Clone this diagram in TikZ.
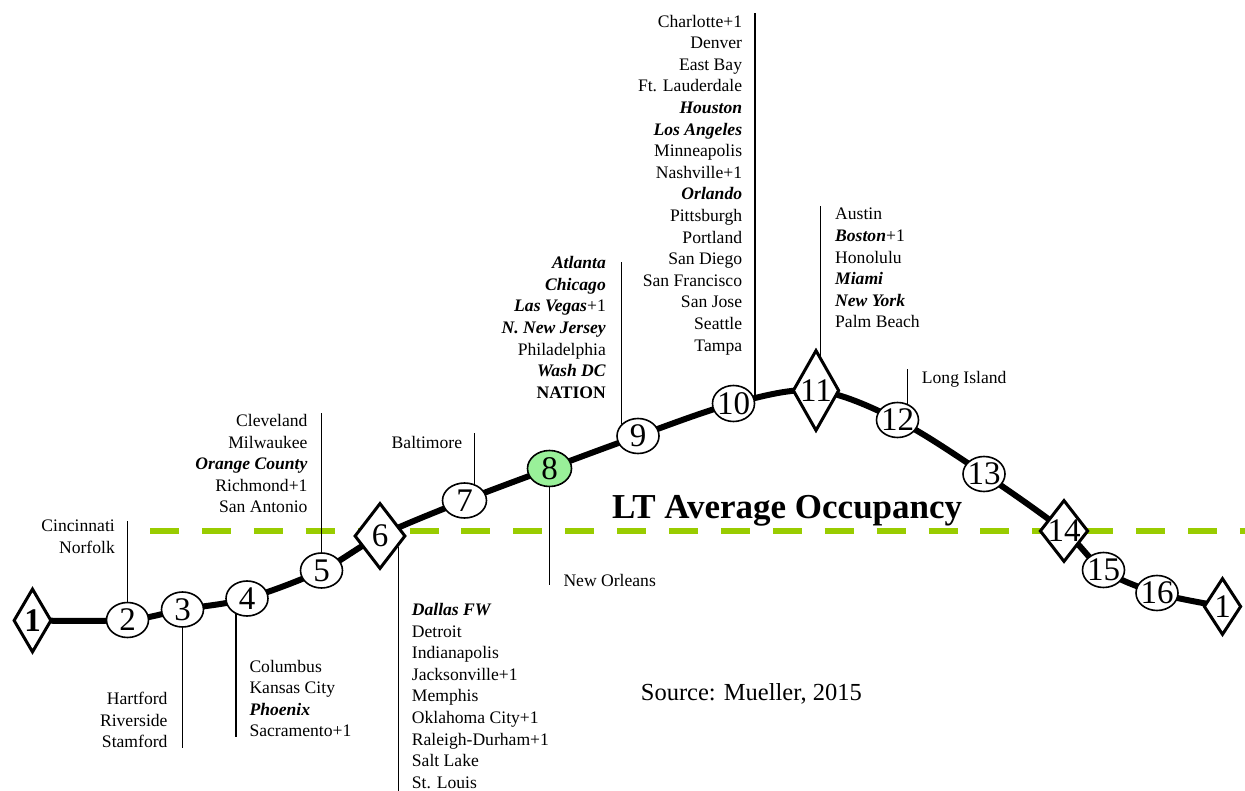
\documentclass[tikz,border=0pt]{standalone}
\usepackage{fontspec}
\setmainfont{Liberation Serif}
\usetikzlibrary{shapes.geometric,backgrounds}
\definecolor{avggreen}{RGB}{153,204,0}
\definecolor{topfill}{RGB}{153,240,153}
\newcommand\keycity[1]{\textbf{\textit{#1}}}
\begin{document}
\begin{tikzpicture}[x=1pt,y=-1pt,
  rank/.style={ellipse,draw,line width=1.6pt,fill=white,minimum width=42pt,
    minimum height=35pt,inner xsep=-4pt,inner ysep=0pt,font=\fontsize{33}{33}\selectfont},
  gate/.style={diamond,draw,line width=3pt,fill=white,inner xsep=-3pt,inner ysep=0pt,
    font=\fontsize{33}{33}\selectfont},
  leader/.style={line width=1.4pt},
  cityR/.style={anchor=north east,align=right,inner sep=0pt,
    font=\fontsize{17.6}{21.6}\selectfont},
  cityL/.style={anchor=north west,align=left,inner sep=0pt,
    font=\fontsize{17.6}{21.6}\selectfont},
  occ/.style={line width=6pt},
  avg/.style={avggreen,line width=6pt,dash pattern=on 29pt off 22.9pt}
]
\useasboundingbox (0,0) rectangle (1245,791);

% occupancy ranks along the curve
\node[gate,aspect=0.6,minimum width=38pt,minimum height=64pt] (s1) at (32.5,620.5) {\textbf{1}};
\node[rank] (s2) at (127.5,620) {2};
\node[rank] (s3) at (182.5,609.5) {3};
\node[rank] (s4) at (247,598.5) {4};
\node[rank] (s5) at (321.5,570.5) {5};
\node[gate,aspect=0.75,minimum width=51pt,minimum height=66pt] (s6) at (380,536) {6};
\node[rank,minimum width=44pt] (s7) at (464.5,500.5) {7};
\node[rank,fill=topfill,minimum width=44pt,minimum height=36pt] (s8) at (549.5,468.5) {8};
\node[rank] (s9) at (638,436) {9};
\node[rank,minimum height=36pt] (s10) at (733.5,403.5) {10};
\node[gate,aspect=0.57,minimum width=46.5pt,minimum height=81pt] (s11) at (816,390.5) {11};
\node[rank] (s12) at (897.5,420) {12};
\node[rank] (s13) at (984,474) {13};
\node[gate,aspect=0.78,minimum width=48.5pt,minimum height=62pt] (s14) at (1064,531) {14};
\node[rank] (s15) at (1103.5,570) {15};
\node[rank] (s16) at (1157,593) {16};
\node[gate,aspect=0.65,minimum width=37.5pt,minimum height=57pt] (s1b) at (1222.5,606.5) {1};

% curve and average line behind the ranks
\begin{pgfonlayer}{background}
  \coordinate (avgL) at (150,531);
  \coordinate (avgR) at (1245,531);
  \draw[avg] (avgL) -- (avgR);
  \draw[occ] plot[smooth,tension=0.55] coordinates {(s1) (s2) (s3) (s4) (s5) (s6)
    (s7) (s8) (s9) (s10) (s11) (s12) (s13) (s14) (s15) (s16) (s1b)};
\end{pgfonlayer}

% leaders to the city lists
\coordinate (t2) at (127.5,520.5);
\coordinate (b3) at (182.5,748);
\coordinate (b4) at (236,737);
\coordinate (t5) at (321.5,413);
\coordinate (b6) at (398.5,791);
\coordinate (t7) at (474,433);
\coordinate (b8) at (549.5,585);
\coordinate (t9) at (621.7,262);
\coordinate (t10) at (755,13);
\coordinate (t11) at (821,206);
\coordinate (t12) at (907.7,369);
\draw[leader] (s2) -- (t2);
\draw[leader] (s3) -- (b3);
\draw[leader] (s4.235) -- (s4.235 |- b4);
\draw[leader] (s5) -- (t5);
\draw[leader] (s6.-31) -- (s6.-31 |- b6);
\draw[leader] (s7.59) -- (s7.59 |- t7);
\draw[leader] (s8) -- (b8);
\draw[leader] (s9.144) -- (s9.144 |- t9);
\draw[leader] (s10.10) -- (s10.10 |- t10);
\draw[leader] (s11.82) -- (s11.82 |- t11);
\draw[leader] (s12.58) -- (s12.58 |- t12);

% city lists
\node[cityR] (c2) at (115,520) {Cincinnati\\Norfolk};
\node[cityR] (c3) at (167.7,692) {Hartford\\Riverside\\Stamford};
\node[cityL] (c4) at (249.3,659.7) {Columbus\\Kansas City\\\keycity{Phoenix}\\Sacramento+1};
\node[cityR] (c5) at (307.7,414) {Cleveland\\Milwaukee\\\keycity{Orange County}\\Richmond+1\\San Antonio};
\node[cityL] (c6) at (411.7,603) {\keycity{Dallas FW}\\Detroit\\Indianapolis\\Jacksonville+1\\Memphis\\Oklahoma City+1\\Raleigh-Durham+1\\Salt Lake\\St. Louis};
\node[cityR] (c7) at (462.3,435.7) {Baltimore};
\node[cityL] (c8) at (563.3,574) {New Orleans};
\node[cityR] (c9) at (606,256.3) {\keycity{Atlanta}\\\keycity{Chicago}\\\keycity{Las Vegas}+1\\\keycity{N. New Jersey}\\Philadelphia\\\keycity{Wash DC}\\\textbf{NATION}};
\node[cityR] (c10) at (742.3,14.7) {Charlotte+1\\Denver\\East Bay\\Ft. Lauderdale\\\keycity{Houston}\\\keycity{Los Angeles}\\Minneapolis\\Nashville+1\\\keycity{Orlando}\\Pittsburgh\\Portland\\San Diego\\San Francisco\\San Jose\\Seattle\\Tampa};
\node[cityL] (c11) at (835,208) {Austin\\\keycity{Boston}+1\\Honolulu\\\keycity{Miami}\\\keycity{New York}\\Palm Beach};
\node[cityL] (c12) at (921.7,370.7) {Long Island};

% captions
\node[anchor=base west,inner sep=0pt,font=\fontsize{35}{35}\selectfont\bfseries] (title) at (612,518) {LT Average Occupancy};
\node[anchor=base west,inner sep=0pt,font=\fontsize{24.5}{24.5}\selectfont] (source) at (640.7,700.7) {Source: Mueller, 2015};
\end{tikzpicture}
\end{document}
